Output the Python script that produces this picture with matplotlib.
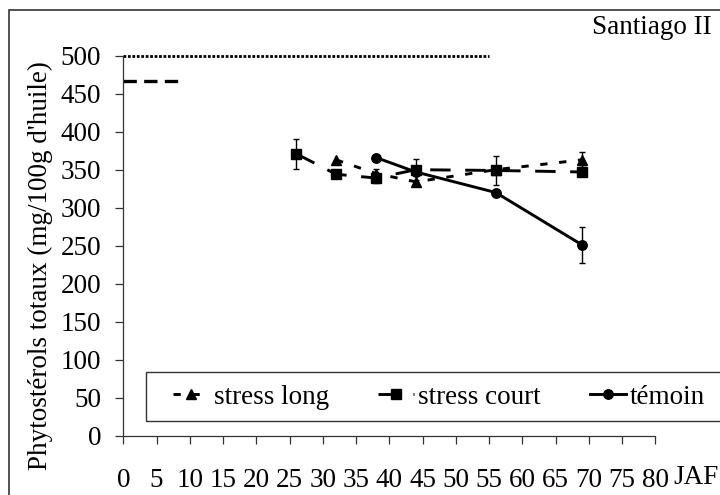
import numpy as np
import matplotlib
matplotlib.use("Agg")
import matplotlib.pyplot as plt
from matplotlib.patches import Rectangle
from matplotlib.lines import Line2D

plt.rcParams['font.family'] = ['Liberation Serif', 'DejaVu Serif']

# jours apres floraison (JAF) et teneurs
days_long = [32, 38, 44, 56, 69]
vals_long = [363, 345, 334, 350, 363]
err_long = [0, 6, 0, 0, 10]

days_court = [26, 32, 38, 44, 56, 69]
vals_court = [371, 344, 339, 350, 349, 347]
err_court = [20, 0, 7, 14, 19, 0]

days_temoin = [38, 44, 56, 69]
vals_temoin = [366, 347, 320, 251]
err_temoin = [0, 0, 0, 24]

# traits de periode en haut du graphique
dotted_x = [0, 55]
dotted_y = [500, 500]
dashed_x = [0, 9]
dashed_y = [467, 467]

xticks = list(range(0, 81, 5))
yticks = list(range(0, 501, 50))

W, H = 720, 495
fig = plt.figure(figsize=(7.2, 4.95), dpi=100)
ax = fig.add_axes([123.3 / W, 1 - 435.7 / H, 532 / W, 380 / H])

fs = 19.5

ax.plot(dotted_x, dotted_y, color='black', lw=2.0, ls=(0, (1, 0.6)), clip_on=False)
ax.plot(dashed_x, dashed_y, color='black', lw=2.4, ls=(0, (4, 2.2)), clip_on=False)

series = [
    (days_long, vals_long, err_long, '^', (0, (2.5, 4)), 'stress long'),
    (days_court, vals_court, err_court, 's', (0, (7, 5)), 'stress court'),
    (days_temoin, vals_temoin, err_temoin, 'o', '-', 'témoin'),
]
handles = []
for d, v, e, m, ls, lab in series:
    d = np.array(d)
    v = np.array(v)
    e = np.array(e)
    ax.plot(d, v, color='black', lw=2.1, ls=ls, zorder=3)
    ax.plot(d, v, color='black', lw=0, marker=m, ms=6.8, zorder=4)
    k = e > 0
    ax.errorbar(d[k], v[k], yerr=e[k], fmt='none', ecolor='black',
                elinewidth=1, capsize=2.3, capthick=1, zorder=2)
    handles.append(Line2D([], [], color='black', lw=2.1, ls=ls, marker=m, ms=6.8, label=lab))

ax.set_xlim(0, 80)
ax.set_ylim(0, 500)
ax.set_xticks(xticks)
ax.set_yticks(yticks)
ax.tick_params(axis='both', direction='out', length=6, width=0.9, labelsize=fs, color='#333333')
ax.tick_params(axis='x', pad=17)
ax.tick_params(axis='y', pad=10)
for s in ['top', 'right']:
    ax.spines[s].set_visible(False)
for s in ['left', 'bottom']:
    ax.spines[s].set_linewidth(0.9)
    ax.spines[s].set_color('#333333')

fig.text(40 / W, 1 - 266 / H, "Phytostérols totaux (mg/100g d'huile)", rotation=90,
         ha='center', va='center', fontsize=fs)
fig.text(712 / W, 1 - 27 / H, 'Santiago II', ha='right', va='center', fontsize=fs)
fig.text(696 / W, 1 - 478 / H, 'JAF', ha='center', va='center', fontsize=fs)

# cadre exterieur et cadre de legende
fig.add_artist(Rectangle((9 / W, -0.05), 1.2, 1 - 10 / H + 0.05, transform=fig.transFigure,
                         fill=False, lw=1.2, edgecolor='#333333'))
fig.add_artist(Rectangle((146 / W, 1 - 421 / H), 1.2, 49 / H, transform=fig.transFigure,
                         fill=False, lw=1.0, edgecolor='#333333'))
fig.legend(handles=handles, ncol=3, loc='center left', bbox_to_anchor=(173 / W, 1 - 397 / H),
           frameon=False, fontsize=fs, handlelength=1.35, handletextpad=0.15,
           columnspacing=1.8, borderpad=0, borderaxespad=0)

fig.savefig('out.png', dpi=100)
